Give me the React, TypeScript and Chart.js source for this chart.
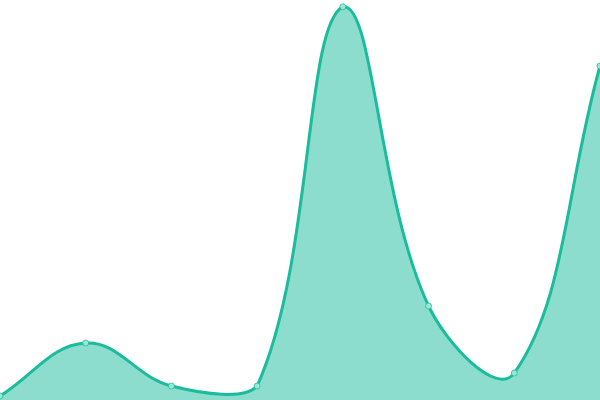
import React, { useEffect, useRef } from 'react';
import { Chart, registerables } from 'chart.js';

Chart.register(...registerables);

const labels = ['A', 'B', 'C', 'D', 'E', 'F', 'G', 'H'];
const values = [1, 14.25, 3.5, 3.5, 98.3, 23.5, 6.75, 83.5];

const App: React.FC = () => {
  const canvasRef = useRef<HTMLCanvasElement>(null);

  useEffect(() => {
    document.body.style.margin = '0';
    const chart = new Chart(canvasRef.current!, {
      type: 'line',
      data: {
        labels,
        datasets: [
          {
            data: values,
            borderColor: '#1abc9c',
            backgroundColor: 'rgba(26,188,156,0.5)',
            pointBackgroundColor: '#9be6d7',
            pointBorderColor: 'rgba(26,188,156,0.75)',
            pointRadius: 3,
            pointBorderWidth: 1,
            borderWidth: 3,
            tension: 0.4,
            fill: 'origin',
          },
        ],
      },
      options: {
        animation: false,
        responsive: false,
        layout: { padding: 0, autoPadding: false },
        plugins: { legend: { display: false }, tooltip: { enabled: false } },
        scales: {
          x: { display: false },
          y: { display: false, min: 0, max: 100 },
        },
      },
    });
    return () => chart.destroy();
  }, []);

  return (
    <div style={{ width: 600, height: 400 }}>
      <canvas ref={canvasRef} width={600} height={400} />
    </div>
  );
};

export default App;
